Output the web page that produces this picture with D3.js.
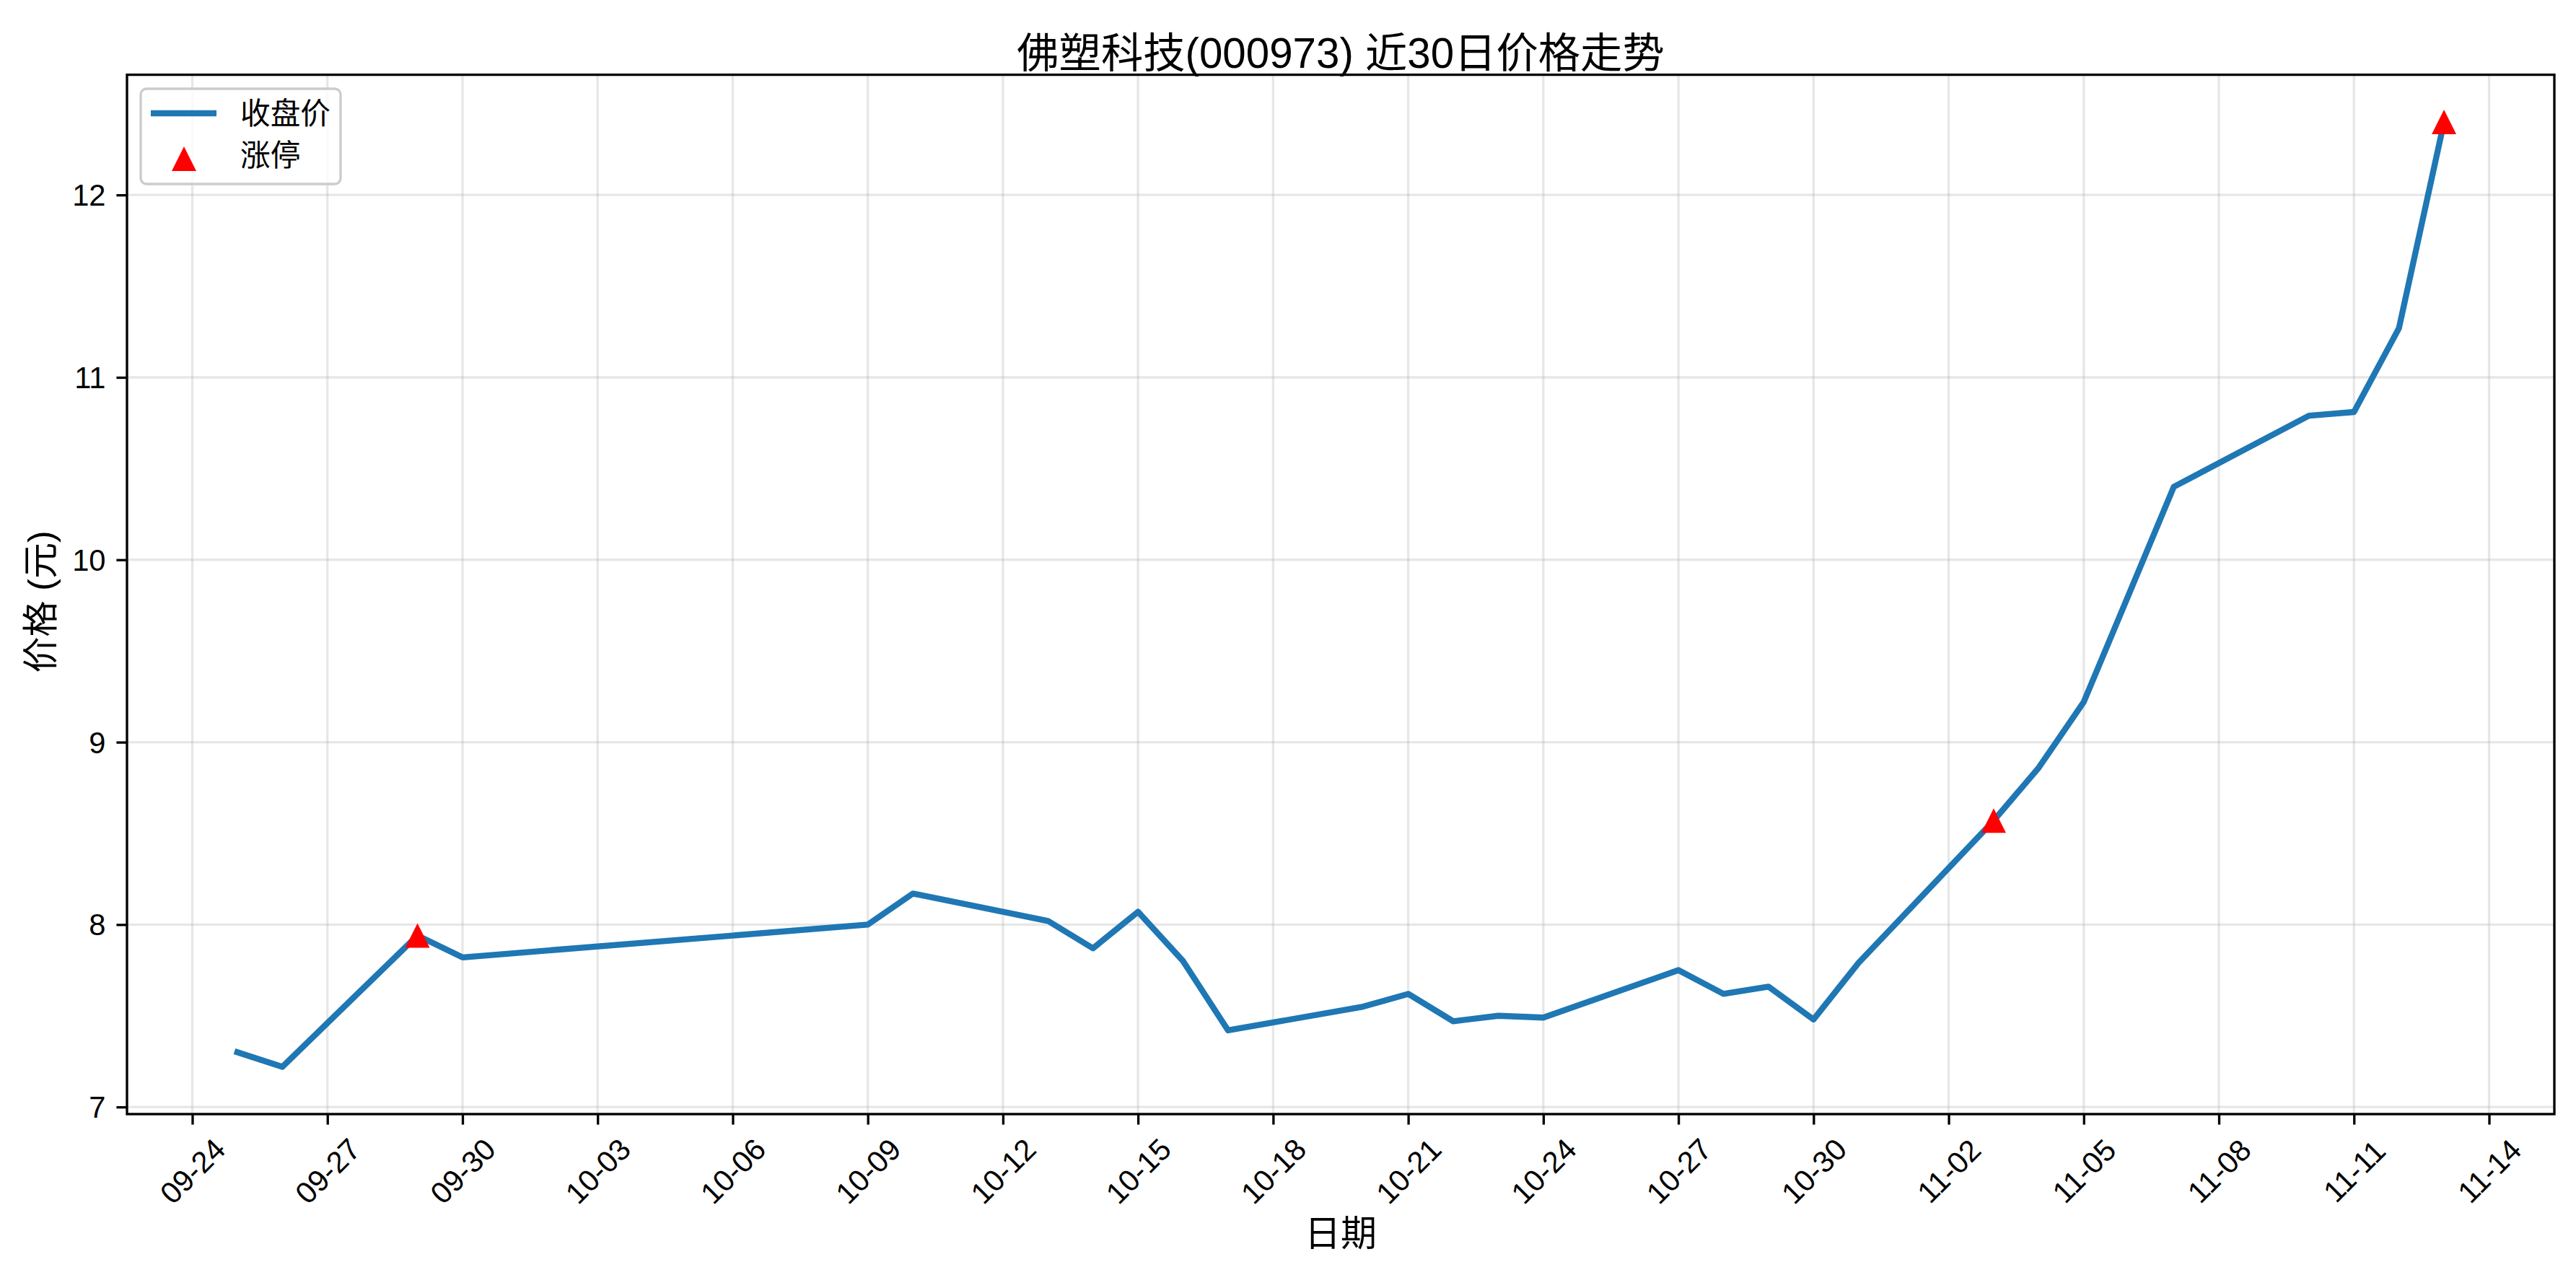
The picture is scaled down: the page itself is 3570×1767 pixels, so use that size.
<!DOCTYPE html>
<html>
<head>
<meta charset="utf-8">
<script src="https://cdn.jsdelivr.net/npm/d3@7"></script>
<style>
  html, body { margin: 0; padding: 0; background: #fff; }
  svg { display: block; }
  text { font-family: "Liberation Sans", "Noto Sans CJK SC", sans-serif; fill: #000; }
</style>
</head>
<body>
<svg id="chart" width="3570" height="1767"></svg>
<script>
// ---- data ----
const dates = ["2025-09-25","2025-09-26","2025-09-29","2025-09-30",
  "2025-10-09","2025-10-10","2025-10-13","2025-10-14","2025-10-15","2025-10-16","2025-10-17",
  "2025-10-20","2025-10-21","2025-10-22","2025-10-23","2025-10-24",
  "2025-10-27","2025-10-28","2025-10-29","2025-10-30","2025-10-31",
  "2025-11-03","2025-11-04","2025-11-05","2025-11-06","2025-11-07",
  "2025-11-10","2025-11-11","2025-11-12","2025-11-13"];
const closes = [7.30,7.22,7.94,7.82,
  8.00,8.17,8.02,7.87,8.07,7.80,7.42,
  7.55,7.62,7.47,7.50,7.49,
  7.75,7.62,7.66,7.48,7.79,
  8.57,8.86,9.22,9.81,10.40,
  10.79,10.81,11.27,12.40];
const limitUpDates = ["2025-09-29","2025-11-03","2025-11-13"];
const xTickLabels = ["09-24","09-27","09-30","10-03","10-06","10-09","10-12","10-15","10-18",
  "10-21","10-24","10-27","10-30","11-02","11-05","11-08","11-11","11-14"];
const yTicks = [7, 8, 9, 10, 11, 12];
const titleText = "佛塑科技(000973) 近30日价格走势";
const xLabel = "日期";
const yLabel = "价格 (元)";
const legendLabels = ["收盘价", "涨停"];

// ---- layout ----
const W = 3570, H = 1767;
const pLeft = 176, pRight = 3540, pTop = 103.6, pBottom = 1544;
const parse = d3.utcParse("%Y-%m-%d");
const pts = dates.map((d, i) => ({ date: parse(d), v: closes[i] }));
const limitPts = pts.filter(p => limitUpDates.includes(d3.utcFormat("%Y-%m-%d")(p.date)));

const dMin = d3.min(pts, p => +p.date), dMax = d3.max(pts, p => +p.date);
const xPad = (dMax - dMin) * 0.05;
const x = d3.scaleUtc().domain([new Date(dMin - xPad), new Date(dMax + xPad)]).range([pLeft, pRight]);
const vMin = d3.min(closes), vMax = d3.max(closes);
const yPad = (vMax - vMin) * 0.05;
const y = d3.scaleLinear().domain([vMin - yPad, vMax + yPad]).range([pBottom, pTop]);

const xTickDates = xTickLabels.map(l => parse("2025-" + l));

const svg = d3.select("#chart");
svg.append("rect").attr("width", W).attr("height", H).attr("fill", "#fff");

const lw = 3.33;
// grid
const grid = svg.append("g");
grid.selectAll("line").data(xTickDates).join("line")
  .attr("x1", d => x(d)).attr("x2", d => x(d)).attr("y1", pTop).attr("y2", pBottom)
  .attr("stroke", "#b0b0b0").attr("stroke-opacity", 0.3).attr("stroke-width", lw);
const grid2 = svg.append("g");
grid2.selectAll("line").data(yTicks).join("line")
  .attr("x1", pLeft).attr("x2", pRight).attr("y1", d => y(d)).attr("y2", d => y(d))
  .attr("stroke", "#b0b0b0").attr("stroke-opacity", 0.3).attr("stroke-width", lw);

// line
const line = d3.line().x(p => x(p.date)).y(p => y(p.v));
svg.append("path").datum(pts).attr("d", line)
  .attr("fill", "none").attr("stroke", "#1f77b4").attr("stroke-width", 8.33)
  .attr("stroke-linejoin", "round").attr("stroke-linecap", "square");

// markers
const tri = "M0,-17L-17,17L17,17Z";
svg.append("g").selectAll("path").data(limitPts).join("path")
  .attr("d", tri).attr("transform", p => `translate(${x(p.date)},${y(p.v)})`)
  .attr("fill", "#ff0000");

// axes
const xAxis = d3.axisBottom(x).tickValues(xTickDates).tickSize(14.6).tickSizeOuter(0)
  .tickFormat((d, i) => xTickLabels[i]);
const gx = svg.append("g").attr("transform", `translate(0,${pBottom})`).call(xAxis);
gx.select(".domain").remove();
gx.selectAll(".tick line").attr("stroke", "#000").attr("stroke-width", lw);
gx.selectAll(".tick text").remove();
gx.selectAll(".tick").append("text")
  .attr("text-anchor", "middle").attr("dominant-baseline", "central")
  .attr("transform", "translate(0,79) rotate(-45)")
  .attr("font-size", 41.7)
  .text((d, i) => xTickLabels[i]);

const yAxis = d3.axisLeft(y).tickValues(yTicks).tickSize(14.6).tickSizeOuter(0).tickFormat(d3.format("d"));
const gy = svg.append("g").attr("transform", `translate(${pLeft},0)`).call(yAxis);
gy.select(".domain").remove();
gy.selectAll(".tick line").attr("stroke", "#000").attr("stroke-width", lw);
gy.selectAll(".tick text").attr("x", -29.5).attr("dy", null)
  .attr("dominant-baseline", "central").attr("font-size", 41.7)
  .style("font-family", '"Liberation Sans", "Noto Sans CJK SC", sans-serif').attr("fill", "#000");

// spines
svg.append("rect").attr("x", pLeft).attr("y", pTop).attr("width", pRight - pLeft).attr("height", pBottom - pTop)
  .attr("fill", "none").attr("stroke", "#000").attr("stroke-width", lw);

// title & labels
svg.append("text").attr("x", (pLeft + pRight) / 2).attr("y", 94).attr("text-anchor", "middle")
  .attr("font-size", 58.3).text(titleText);
svg.append("text").attr("x", (pLeft + pRight) / 2).attr("y", 1710).attr("text-anchor", "middle")
  .attr("dominant-baseline", "central").attr("font-size", 50).text(xLabel);
svg.append("text").attr("transform", `translate(57,834) rotate(-90)`).attr("text-anchor", "middle")
  .attr("dominant-baseline", "central").attr("font-size", 50).text(yLabel);

// legend
const lg = svg.append("g");
lg.append("rect").attr("x", 195).attr("y", 123).attr("width", 277).attr("height", 132).attr("rx", 8)
  .attr("fill", "#fff").attr("fill-opacity", 0.8).attr("stroke", "#cccccc").attr("stroke-width", lw);
lg.append("line").attr("x1", 209).attr("x2", 300).attr("y1", 157).attr("y2", 157)
  .attr("stroke", "#1f77b4").attr("stroke-width", 8.33);
lg.append("path").attr("d", tri).attr("transform", "translate(255,220)").attr("fill", "#ff0000");
lg.selectAll("text").data(legendLabels).join("text")
  .attr("x", 333).attr("y", (d, i) => 157 + i * 58).attr("dominant-baseline", "central")
  .attr("font-size", 41.7).text(d => d);
</script>
</body>
</html>
